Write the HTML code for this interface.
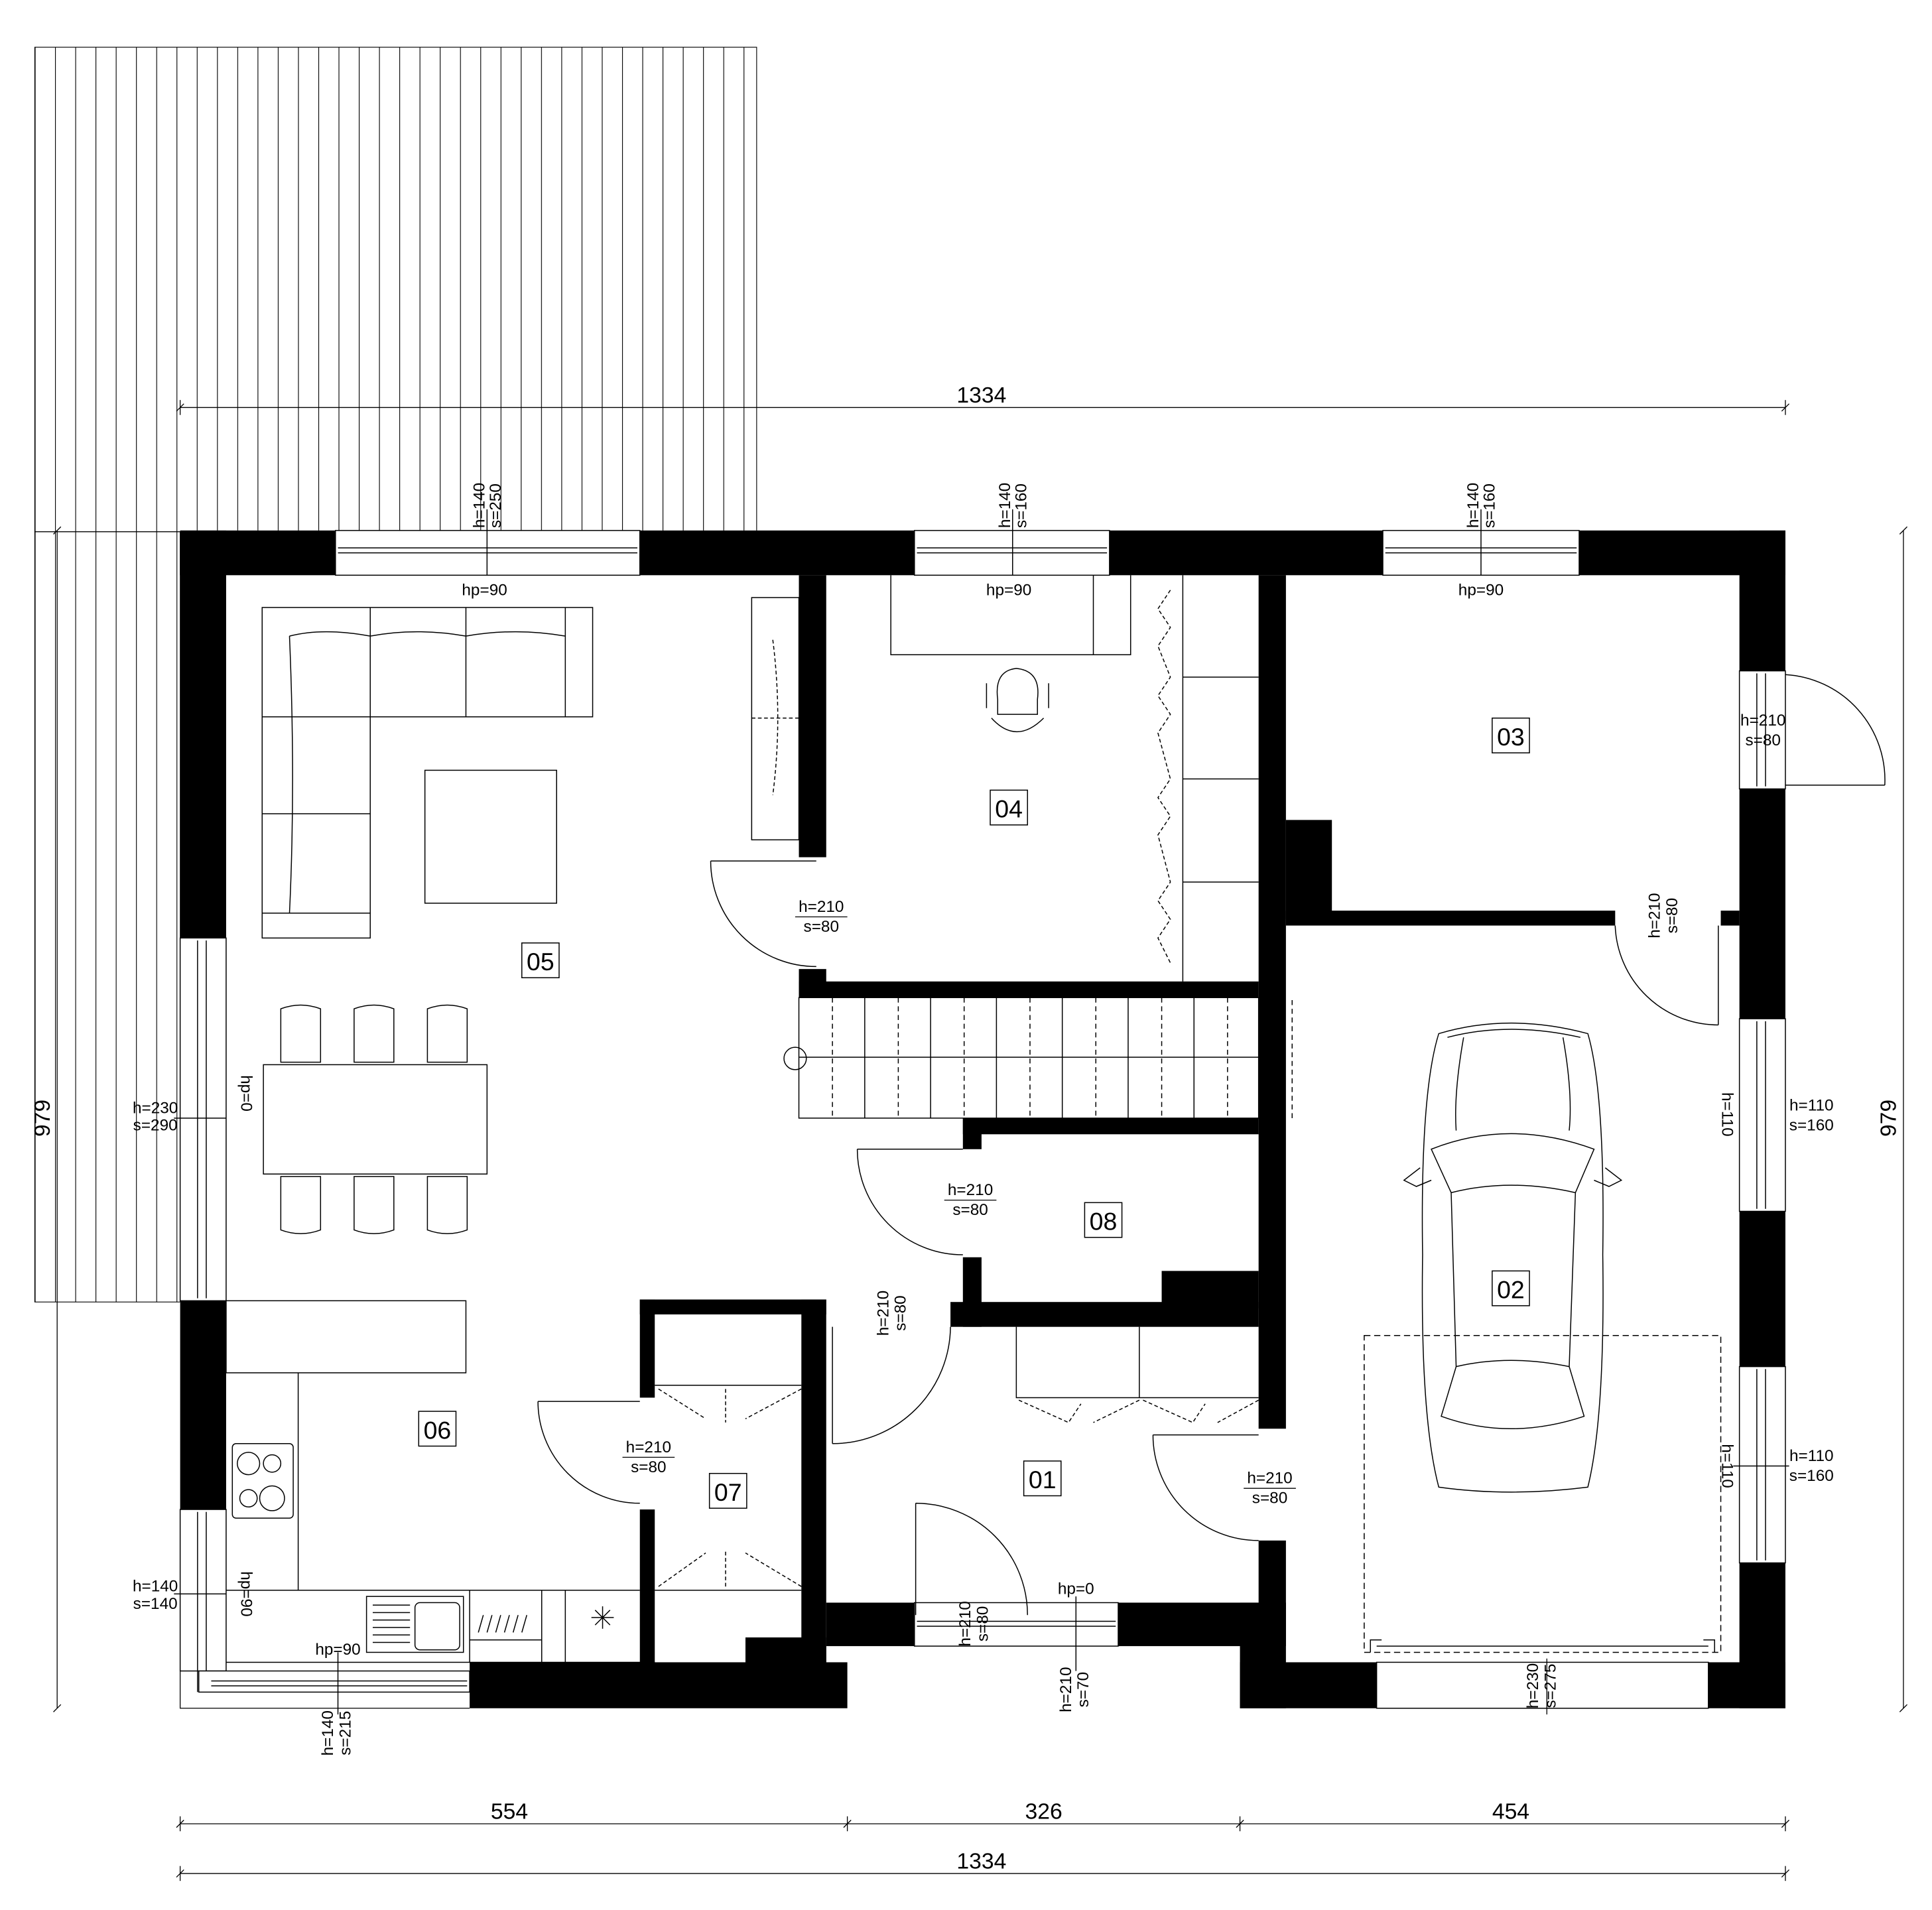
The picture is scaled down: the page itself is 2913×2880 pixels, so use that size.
<!DOCTYPE html>
<html><head><meta charset="utf-8"><style>html,body{margin:0;padding:0;background:#fff}svg{display:block}</style></head>
<body>
<svg xmlns="http://www.w3.org/2000/svg" width="2913" height="2880" viewBox="0 0 1555 1537.4" preserveAspectRatio="none" font-family="Liberation Sans, sans-serif">
<defs>
<pattern id="deck" patternUnits="userSpaceOnUse" x="28" y="0" width="16.3" height="20"><line x1="0.3" y1="0" x2="0.3" y2="20" stroke="#000" stroke-width="0.6"/></pattern>
</defs>
<rect width="1555" height="1537.4" fill="#fff"/>
<!-- terrace -->
<rect x="28" y="38" width="581" height="390" fill="url(#deck)" stroke="#000" stroke-width="0.6"/>
<rect x="28" y="428" width="117" height="620" fill="url(#deck)" stroke="#000" stroke-width="0.6"/>
<rect x="145" y="427" width="1292" height="948" fill="#fff"/>

<g stroke="#000" stroke-width="0.7" fill="none">
<!-- dimension lines -->
<line x1="145" y1="328" x2="1437" y2="328"/>
<line x1="46" y1="427" x2="46" y2="1375"/>
<line x1="1532" y1="427" x2="1532" y2="1375"/>
<line x1="145" y1="1468" x2="1437" y2="1468"/>
<line x1="145" y1="1508" x2="1437" y2="1508"/>
<path d="M142 331l6-6M1434 331l6-6M43 430l6-6M43 1378l6-6M1529 430l6-6M1529 1378l6-6M142 1471l6-6M679 1471l6-6M995 1471l6-6M1434 1471l6-6M142 1511l6-6M1434 1511l6-6"/>
<line x1="145" y1="322" x2="145" y2="334"/><line x1="1437" y1="322" x2="1437" y2="334"/>
<line x1="145" y1="1462" x2="145" y2="1474"/><line x1="682" y1="1462" x2="682" y2="1474"/><line x1="998" y1="1462" x2="998" y2="1474"/><line x1="1437" y1="1462" x2="1437" y2="1474"/>
<line x1="145" y1="1502" x2="145" y2="1514"/><line x1="1437" y1="1502" x2="1437" y2="1514"/>
<!-- outline thin -->
<path d="M145 1345V1375H378"/>
</g>

<!-- walls -->
<g fill="#000">
<rect x="145" y="427" width="125" height="36"/>
<rect x="515" y="427" width="221" height="36"/>
<rect x="893" y="427" width="220" height="36"/>
<rect x="1271" y="427" width="166" height="36"/>
<rect x="145" y="427" width="37" height="328"/>
<rect x="145" y="1047" width="37" height="168"/>
<rect x="378" y="1338" width="304" height="37"/>
<rect x="600" y="1318" width="65" height="22"/>
<rect x="645" y="1046" width="20" height="294"/>
<rect x="515" y="1046" width="150" height="12"/>
<rect x="515" y="1046" width="12" height="79"/>
<rect x="515" y="1215" width="12" height="125"/>
<rect x="665" y="1290" width="71" height="35"/>
<rect x="900" y="1290" width="135" height="35"/>
<rect x="998" y="1290" width="37" height="85"/>
<rect x="998" y="1338" width="110" height="37"/>
<rect x="1375" y="1338" width="62" height="37"/>
<rect x="1400" y="427" width="37" height="113"/>
<rect x="1400" y="635" width="37" height="185"/>
<rect x="1400" y="975" width="37" height="125"/>
<rect x="1400" y="1258" width="37" height="117"/>
<rect x="643" y="463" width="22" height="227"/>
<rect x="643" y="780" width="22" height="23"/>
<rect x="643" y="790" width="370" height="13"/>
<rect x="1013" y="463" width="22" height="687"/>
<rect x="1013" y="1240" width="22" height="55"/>
<rect x="1035" y="660" width="37" height="80"/>
<rect x="1035" y="733" width="265" height="12"/>
<rect x="1385" y="733" width="15" height="12"/>
<rect x="775" y="900" width="238" height="13"/>
<rect x="775" y="900" width="15" height="25"/>
<rect x="775" y="1012" width="15" height="56"/>
<rect x="765" y="1048" width="248" height="20"/>
<rect x="935" y="1023" width="78" height="30"/>
</g>

<!-- windows -->
<g stroke="#000" stroke-width="0.8" fill="#fff">
<rect x="270" y="427" width="245" height="36"/><line x1="272" y1="441" x2="513" y2="441"/><line x1="272" y1="445" x2="513" y2="445"/><line x1="392" y1="410" x2="392" y2="463"/>
<rect x="736" y="427" width="157" height="36"/><line x1="738" y1="441" x2="891" y2="441"/><line x1="738" y1="445" x2="891" y2="445"/><line x1="815" y1="410" x2="815" y2="463"/>
<rect x="1113" y="427" width="158" height="36"/><line x1="1115" y1="441" x2="1269" y2="441"/><line x1="1115" y1="445" x2="1269" y2="445"/><line x1="1192" y1="410" x2="1192" y2="463"/>
<rect x="145" y="755" width="37" height="292"/><line x1="159" y1="757" x2="159" y2="1045"/><line x1="166" y1="757" x2="166" y2="1045"/><line x1="140" y1="900" x2="182" y2="900"/>
<rect x="145" y="1215" width="37" height="130"/><line x1="159" y1="1217" x2="159" y2="1362"/><line x1="166" y1="1217" x2="166" y2="1362"/><line x1="140" y1="1283" x2="182" y2="1283"/>
<rect x="160" y="1345" width="218" height="17"/><line x1="170" y1="1353" x2="376" y2="1353"/><line x1="170" y1="1357" x2="376" y2="1357"/><line x1="272" y1="1330" x2="272" y2="1380"/>
<rect x="1400" y="820" width="37" height="155"/><line x1="1414" y1="822" x2="1414" y2="973"/><line x1="1421" y1="822" x2="1421" y2="973"/>
<rect x="1400" y="1100" width="37" height="158"/><line x1="1414" y1="1102" x2="1414" y2="1256"/><line x1="1421" y1="1102" x2="1421" y2="1256"/><line x1="1395" y1="1180" x2="1440" y2="1180"/>
<rect x="736" y="1290" width="164" height="35"/><line x1="738" y1="1305" x2="898" y2="1305"/><line x1="738" y1="1309" x2="898" y2="1309"/><line x1="866" y1="1285" x2="866" y2="1345"/>
<rect x="1108" y="1338" width="267" height="37"/>
<rect x="1400" y="540" width="37" height="95"/><line x1="1414" y1="542" x2="1414" y2="633"/><line x1="1421" y1="542" x2="1421" y2="633"/>
</g>

<g stroke="#000" stroke-width="0.8" fill="none">
<!-- doors -->
<path d="M572 693H657M572 693A85 85 0 0 0 657 778"/>
<path d="M690 925H775M690 925A85 85 0 0 0 775 1010"/>
<path d="M670 1068V1162M670 1162A95 95 0 0 0 765 1068"/>
<path d="M433 1128H515M433 1128A82 82 0 0 0 515 1210"/>
<path d="M737 1210V1300M737 1210A90 90 0 0 1 827 1300"/>
<path d="M928 1155H1013M928 1155A85 85 0 0 0 1013 1240"/>
<path d="M1383 745V825M1383 825A83 83 0 0 1 1300 745"/>
<path d="M1437 543A85 85 0 0 1 1517 632M1437 632H1517"/>
<!-- sofa -->
<path d="M211 489H477V577H298V755H211Z"/>
<path d="M211 577H298M298 489V577M375 489V577M455 489V577M211 655H298M211 735H298M233 512Q260 505 298 512Q335 505 375 512Q415 505 455 512M233 512Q238 630 233 735"/>
<rect x="342" y="620" width="106" height="107"/>
<rect x="605" y="481" width="38" height="195"/>
<path d="M622 515Q630 578 622 640M605 578H643" stroke-dasharray="3 2"/>
<!-- dining -->
<rect x="212" y="857" width="180" height="88"/>
<path d="M226 855V812Q242 806 258 812V855Z M285 855V812Q301 806 317 812V855Z M344 855V812Q360 806 376 812V855Z"/>
<path d="M226 947V990Q242 996 258 990V947Z M285 947V990Q301 996 317 990V947Z M344 947V990Q360 996 376 990V947Z"/>
<!-- kitchen -->
<rect x="182" y="1047" width="193" height="58"/>
<path d="M240 1105V1280M182 1280H515M182 1338H527"/>
<rect x="187" y="1162" width="49" height="60" rx="3"/>
<circle cx="200" cy="1178" r="9"/><circle cx="219" cy="1178" r="7"/><circle cx="200" cy="1206" r="7"/><circle cx="219" cy="1206" r="10"/>
<rect x="295" y="1285" width="78" height="45"/><rect x="334" y="1290" width="36" height="38" rx="4"/>
<path d="M300 1292H330M300 1298H330M300 1304H330M300 1310H330M300 1316H330M300 1322H330"/>
<path d="M378 1280V1338M436 1280V1338M455 1280V1338M378 1320H436M385 1314l4-14M392 1314l4-14M399 1314l4-14M406 1314l4-14M413 1314l4-14M420 1314l4-14M479 1296l12 12M491 1296l-12 12M485 1293V1311M476 1302H494"/>
<!-- 04 -->
<path d="M717 463V527H910V463M880 463V527"/>
<path d="M803 563Q800 540 818 538Q838 540 835 563V575H803Z M798 578Q818 600 840 578M794 550V570M844 550V570"/>
<path d="M952 463V790M952 545H1013M952 627H1013M952 710H1013"/>
<path d="M942 475L932 490L942 505L932 520L942 545L932 560L942 575L932 590L942 627L932 642L942 657L932 672L942 710L932 725L942 740L932 755L942 775" stroke-dasharray="3 2"/>
<!-- stairs -->
<rect x="643" y="803" width="370" height="97"/>
<path d="M643 851H1013"/>
<circle cx="640" cy="852" r="9"/>
<path d="M696 803V900M749 803V900M802 803V900M855 803V900M908 803V900M961 803V900"/>
<path d="M670 803V900M723 803V900M776 803V900M829 803V900M882 803V900M935 803V900M988 803V900M1040 805V900" stroke-dasharray="4 3"/>
<!-- 07 closet -->
<path d="M527 1115H645M527 1280H645"/>
<path d="M530 1118L568 1142M645 1118L600 1142M584 1118V1145M530 1277L568 1250M645 1277L600 1250M584 1277V1248" stroke-dasharray="3 2"/>
<!-- 01 closet -->
<path d="M818 1068V1125H1013M917 1068V1125"/>
<path d="M820 1127L860 1145L870 1130M917 1127L880 1145M920 1127L960 1145L970 1130M1013 1127L980 1145" stroke-dasharray="3 2"/>
<!-- garage -->
<rect x="1098" y="1075" width="287" height="255" stroke-dasharray="5 3"/>
<path d="M1103 1330V1320H1112M1380 1330V1320H1371M1108 1325H1375"/>
<!-- car -->
<path d="M1158 832Q1215 815 1278 832Q1292 880 1290 1010Q1292 1140 1278 1197Q1215 1205 1158 1197Q1143 1140 1145 1010Q1143 880 1158 832Z"/>
<path d="M1165 835Q1215 822 1272 835M1178 835Q1170 880 1172 910M1258 835Q1266 880 1263 910M1152 925Q1215 900 1283 925L1268 960Q1215 948 1168 960Z M1168 960L1172 1100M1268 960L1263 1100M1172 1100Q1215 1090 1263 1100L1275 1140Q1215 1160 1160 1140Z M1143 940L1130 950L1140 955L1152 950 M1292 940L1305 950L1295 955L1283 950"/>
</g>

<!-- room labels -->
<g font-size="20" text-anchor="middle" fill="#000">
<g fill="none" stroke="#000" stroke-width="0.8">
<rect x="420" y="759" width="30" height="28"/><rect x="797" y="636" width="30" height="28"/><rect x="1201" y="578" width="30" height="28"/><rect x="873" y="968" width="30" height="28"/><rect x="1201" y="1023" width="30" height="28"/><rect x="337" y="1136" width="30" height="28"/><rect x="571" y="1186" width="30" height="28"/><rect x="824" y="1176" width="30" height="28"/>
</g>
<text x="435" y="781">05</text><text x="812" y="658">04</text><text x="1216" y="600">03</text><text x="888" y="990">08</text><text x="1216" y="1045">02</text><text x="352" y="1158">06</text><text x="586" y="1208">07</text><text x="839" y="1198">01</text>
</g>

<!-- dims text -->
<g font-size="18" text-anchor="middle" fill="#000">
<text x="790" y="324">1334</text><text x="410" y="1464">554</text><text x="840" y="1464">326</text><text x="1216" y="1464">454</text><text x="790" y="1504">1334</text>
<text transform="translate(40 900) rotate(-90)">979</text>
<text transform="translate(1526 900) rotate(-90)">979</text>
</g>

<!-- annotations -->
<g font-size="13" fill="#000" text-anchor="middle">
<text x="390" y="479">hp=90</text><text x="812" y="479">hp=90</text><text x="1192" y="479">hp=90</text>
<text transform="translate(390 425) rotate(-90)" text-anchor="start">h=140</text><text transform="translate(403 425) rotate(-90)" text-anchor="start">s=250</text>
<text transform="translate(813 425) rotate(-90)" text-anchor="start">h=140</text><text transform="translate(826 425) rotate(-90)" text-anchor="start">s=160</text>
<text transform="translate(1190 425) rotate(-90)" text-anchor="start">h=140</text><text transform="translate(1203 425) rotate(-90)" text-anchor="start">s=160</text>
<text x="661" y="734">h=210</text><text x="661" y="750">s=80</text>
<text x="781" y="962">h=210</text><text x="781" y="978">s=80</text>
<text x="522" y="1169">h=210</text><text x="522" y="1185">s=80</text>
<text x="1022" y="1194">h=210</text><text x="1022" y="1210">s=80</text>
<text x="1419" y="584">h=210</text><text x="1419" y="600">s=80</text>
<text x="125" y="896">h=230</text><text x="125" y="910">s=290</text>
<text x="125" y="1281">h=140</text><text x="125" y="1295">s=140</text>
<text x="1458" y="894">h=110</text><text x="1458" y="910">s=160</text>
<text x="1458" y="1176">h=110</text><text x="1458" y="1192">s=160</text>
<text x="272" y="1332">hp=90</text><text x="866" y="1283">hp=0</text>
<text transform="translate(194 880) rotate(90)">hp=0</text>
<text transform="translate(194 1283) rotate(90)">hp=90</text>
<text transform="translate(1386 897) rotate(90)">h=110</text>
<text transform="translate(1386 1180) rotate(90)">h=110</text>
<text transform="translate(715 1057) rotate(-90)">h=210</text><text transform="translate(729 1057) rotate(-90)">s=80</text>
<text transform="translate(1336 737) rotate(-90)">h=210</text><text transform="translate(1350 737) rotate(-90)">s=80</text>
<text transform="translate(781 1307) rotate(-90)">h=210</text><text transform="translate(795 1307) rotate(-90)">s=80</text>
<text transform="translate(862 1360) rotate(-90)">h=210</text><text transform="translate(876 1360) rotate(-90)">s=70</text>
<text transform="translate(1238 1357) rotate(-90)">h=230</text><text transform="translate(1252 1357) rotate(-90)">s=275</text>
<text transform="translate(268 1395) rotate(-90)">h=140</text><text transform="translate(282 1395) rotate(-90)">s=215</text>
</g>
<g stroke="#000" stroke-width="0.7"><line x1="640" y1="738" x2="682" y2="738"/><line x1="760" y1="966" x2="802" y2="966"/><line x1="501" y1="1173" x2="543" y2="1173"/><line x1="1001" y1="1198" x2="1043" y2="1198"/><line x1="1245" y1="1335" x2="1245" y2="1380"/></g>
</svg>
</body></html>
